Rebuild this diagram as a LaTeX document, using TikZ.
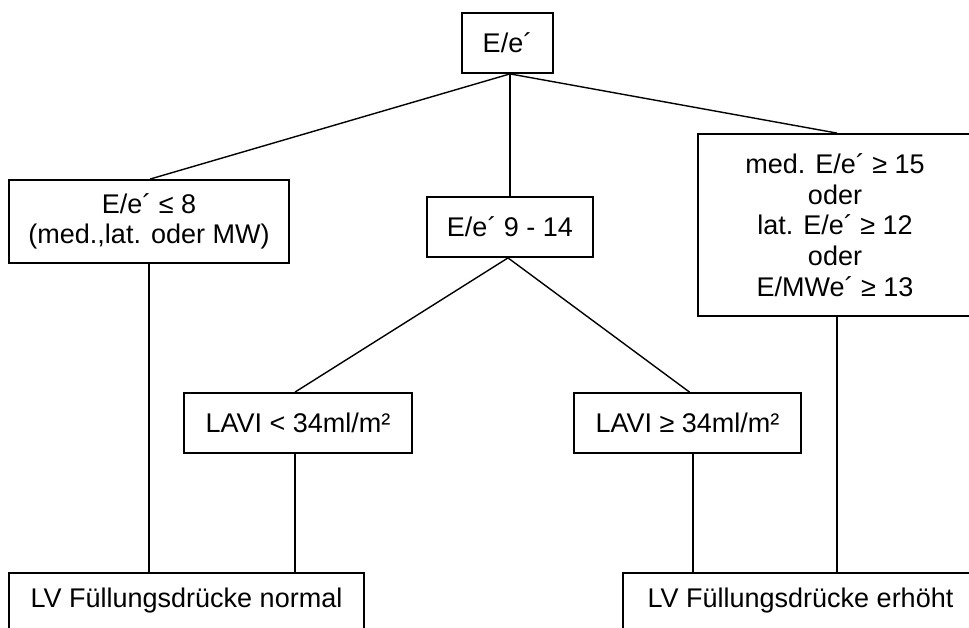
\documentclass[tikz,border=0pt]{standalone}
\usepackage{fontspec}
\setmainfont{Liberation Sans}
\begin{document}
\begin{tikzpicture}[x=1pt,y=-1pt,
  box/.style={draw=black,line width=1.8pt,inner sep=0pt,align=center,
    font=\fontsize{27}{30.7}\selectfont},
  one/.style={text height=19pt,text depth=0pt},
  low/.style={text height=19pt,text depth=21pt},
  con/.style={draw=black,line width=1.4pt}]
\useasboundingbox (0,0) rectangle (969,628);
\clip (0,0) rectangle (969,628);
% nodes
\node[box,one,minimum width=91pt,minimum height=60pt] (top) at (507.5,43) {E/e´};
\node[box,minimum width=280pt,minimum height=83pt] (left) at (149,221.5)
  {E/e´ ≤ 8\\(med.,lat. oder MW)};
\node[box,one,minimum width=166pt,minimum height=60pt] (mid) at (510,227) {E/e´ 9 - 14};
\node[box,minimum width=274pt,minimum height=182pt] (right) at (835,225)
  {med. E/e´ ≥ 15\\oder\\lat. E/e´ ≥ 12\\oder\\E/MWe´ ≥ 13};
\node[box,one,minimum width=228pt,minimum height=60pt] (lavil) at (298,423) {LAVI < 34ml/m²};
\node[box,one,minimum width=227pt,minimum height=60pt] (lavig) at (687.5,423) {LAVI ≥ 34ml/m²};
\node[box,low,minimum width=355pt,minimum height=70pt] (outn) at (186.5,608) {LV Füllungsdrücke normal};
\node[box,low,minimum width=355pt,minimum height=70pt] (oute) at (800.5,608) {LV Füllungsdrücke erhöht};
% connector points
\coordinate (tb) at ([xshift=2.5pt]top.south);
% connectors
\draw[con] (tb) -- ([xshift=1pt]left.north);
\draw[con] (tb) -- (tb |- mid.north);
\draw[con] (tb) -- ([xshift=2pt]right.north);
\draw[con] ([xshift=0pt]left.south) -- (left.south |- outn.north);
\draw[con] ([xshift=-2pt]mid.south) -- ([xshift=-3pt]lavil.north);
\draw[con] ([xshift=-2pt]mid.south) -- ([xshift=2pt]lavig.north);
\draw[con] ([xshift=-3pt]lavil.south) -- ([xshift=-3pt]lavil.south |- outn.north);
\draw[con] ([xshift=5.5pt]lavig.south) -- ([xshift=5.5pt]lavig.south |- oute.north);
\draw[con] ([xshift=2pt]right.south) -- ([xshift=2pt]right.south |- oute.north);
\end{tikzpicture}
\end{document}
